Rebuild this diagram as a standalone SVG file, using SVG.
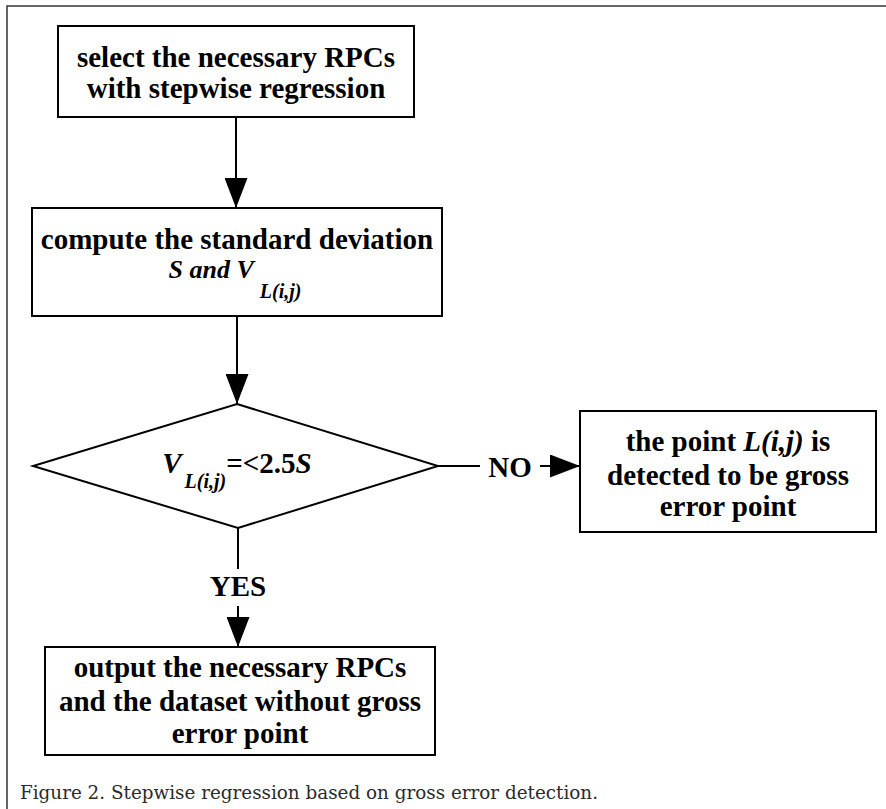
<svg xmlns="http://www.w3.org/2000/svg" width="886" height="809" viewBox="0 0 886 809">
<style>
.box{fill:#fff;stroke:#000;stroke-width:2}
.t{font-family:"Liberation Serif","Times New Roman",serif;font-weight:bold;font-size:29px;fill:#000;text-anchor:middle}
.i{font-style:italic}
.sub{font-size:20px}
.ln{stroke:#000;stroke-width:2;fill:none}
.cap{font-family:"DejaVu Serif","Liberation Serif",serif;font-size:19px;fill:#2b2b2b}
</style>
<defs>
<marker id="ah" markerUnits="userSpaceOnUse" markerWidth="30" markerHeight="23" viewBox="0 0 30 23" refX="30" refY="11.5" orient="auto">
<path d="M0,0 L30,11.5 L0,23 Z" fill="#000"/>
</marker>
</defs>
<rect width="886" height="809" fill="#fff"/>
<path d="M7,809 V6 H886" fill="none" stroke="#333" stroke-width="1.5"/>
<g id="connectors">
<line class="ln" x1="236" y1="117" x2="236" y2="208" marker-end="url(#ah)"/>
<line class="ln" x1="237" y1="316" x2="237" y2="404" marker-end="url(#ah)"/>
<line class="ln" x1="438" y1="466" x2="480" y2="466"/>
<line class="ln" x1="540" y1="466" x2="580" y2="466" marker-end="url(#ah)"/>
<line class="ln" x1="238" y1="528" x2="238" y2="569"/>
<line class="ln" x1="238" y1="606" x2="238" y2="647" marker-end="url(#ah)"/>
<text class="t" x="510" y="477">NO</text>
<text class="t" x="238" y="596">YES</text>
</g>
<g id="n1">
<rect class="box" x="58" y="26" width="356" height="91"/>
<text class="t" x="236" y="67">select the necessary RPCs</text>
<text class="t" x="236" y="98">with stepwise regression</text>
</g>
<g id="n2">
<rect class="box" x="32" y="208" width="410" height="108"/>
<text class="t" x="237" y="249">compute the standard deviation</text>
<text class="t i" x="235" y="278" style="font-size:26px">S and V<tspan class="sub" dx="6" dy="20">L(i,j)</tspan></text>
</g>
<g id="n3">
<polygon class="box" points="237,404 438,466 238,528 33,466"/>
<text class="t" x="237" y="473"><tspan class="i">V</tspan><tspan class="i sub" dx="3" dy="15">L(i,j)</tspan><tspan dy="-15">=&lt;2.5</tspan><tspan class="i">S</tspan></text>
</g>
<g id="n4">
<rect class="box" x="580" y="411" width="296" height="121"/>
<text class="t" x="728" y="451">the point <tspan class="i">L(i,j)</tspan> is</text>
<text class="t" x="728" y="485">detected to be gross</text>
<text class="t" x="728" y="516">error point</text>
</g>
<g id="n5">
<rect class="box" x="45" y="647" width="390" height="108"/>
<text class="t" x="240" y="677">output the necessary RPCs</text>
<text class="t" x="240" y="711">and the dataset without gross</text>
<text class="t" x="240" y="743">error point</text>
</g>
<text class="cap" x="20" y="799" textLength="578" lengthAdjust="spacingAndGlyphs">Figure 2. Stepwise regression based on gross error detection.</text>
</svg>
